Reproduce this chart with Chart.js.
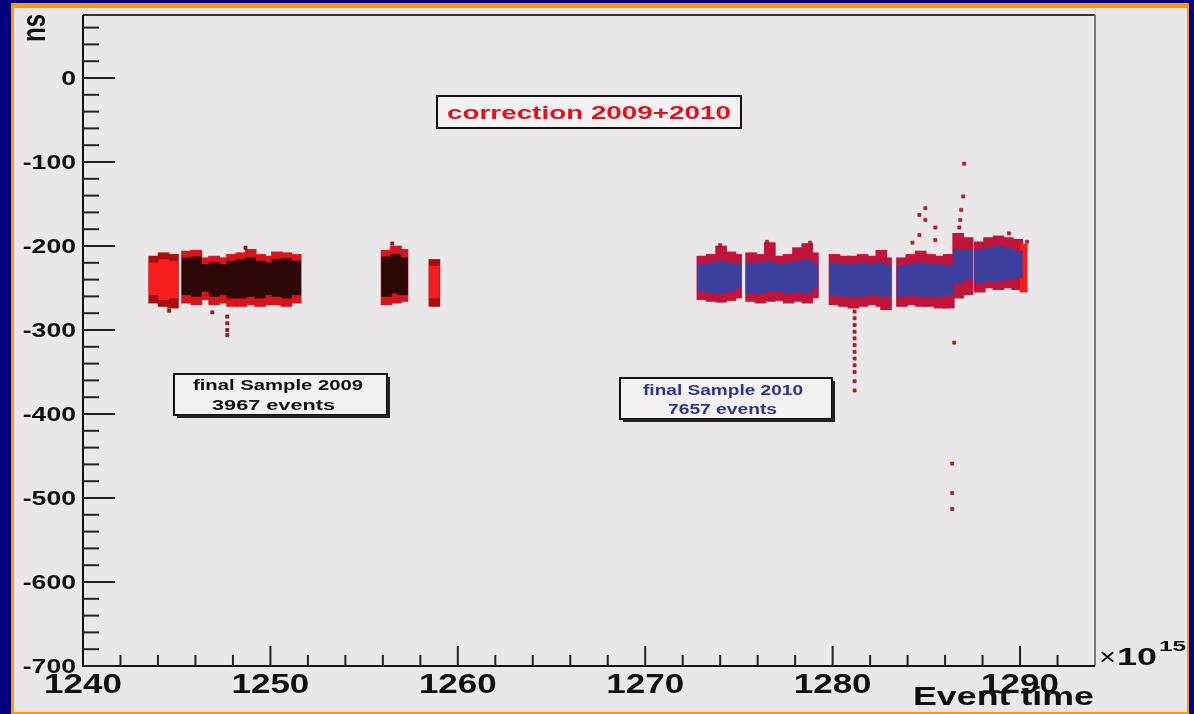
<!DOCTYPE html>
<html>
<head>
<meta charset="utf-8">
<script src="https://cdn.jsdelivr.net/npm/chart.js@4.4.1/dist/chart.umd.min.js"></script>
<style>
  html, body { margin: 0; padding: 0; background: #00007e; }
  #wrap { width: 1194px; height: 714px; }
</style>
</head>
<body>
<div id="wrap"><canvas id="chart" width="1194" height="714"></canvas></div>
<script>
        // axis ticks
        const yTickValues = [-700, -600, -500, -400, -300, -200, -100, 0];
        const xTickValues = [1240, 1250, 1260, 1270, 1280, 1290];

        // stripes: [event time (x1e15), outer low, outer high, core low, core high] in ns
        const sample2009Red = [
            [1243.8, -268, -212, -258, -220],
            [1244.3, -272, -208, -264, -216],
            [1244.8, -274, -210, -262, -218],
            [1258.75, -272, -216, -262, -224]
        ];

        const sample2009 = [
            [1245.55, -268, -206, -258, -214],
            [1246.05, -270, -205, -260, -213],
            [1246.55, -264, -214, -254, -222],
            [1247.0, -270, -212, -260, -220],
            [1247.45, -268, -214, -258, -222],
            [1247.95, -272, -210, -262, -218],
            [1248.45, -272, -208, -262, -216],
            [1248.95, -270, -204, -260, -214],
            [1249.45, -272, -210, -262, -218],
            [1249.9, -270, -212, -258, -220],
            [1250.35, -270, -207, -260, -216],
            [1250.85, -272, -208, -262, -215],
            [1251.35, -268, -210, -258, -218],
            [1256.2, -270, -205, -260, -213],
            [1256.7, -268, -200, -256, -210],
            [1257.05, -266, -204, -258, -214]
        ];

        const sample2010 = [
            [1273.05, -264, -212, -254, -222],
            [1273.55, -266, -210, -256, -220],
            [1274.05, -267, -200, -256, -218],
            [1274.55, -265, -207, -254, -220],
            [1274.85, -262, -210, -250, -222],
            [1275.65, -266, -208, -256, -220],
            [1276.15, -268, -210, -256, -220],
            [1276.65, -266, -196, -254, -218],
            [1277.15, -265, -212, -254, -222],
            [1277.65, -268, -210, -256, -220],
            [1278.15, -266, -202, -255, -218],
            [1278.65, -268, -197, -256, -216],
            [1278.95, -262, -208, -250, -222],
            [1280.1, -270, -210, -258, -220],
            [1280.6, -272, -212, -260, -222],
            [1281.1, -274, -212, -260, -222],
            [1281.6, -272, -210, -260, -220],
            [1282.1, -270, -212, -258, -222],
            [1282.6, -272, -205, -258, -220],
            [1282.85, -276, -214, -260, -224],
            [1283.7, -272, -214, -260, -224],
            [1284.2, -270, -210, -258, -222],
            [1284.7, -272, -206, -260, -220],
            [1285.2, -272, -210, -260, -222],
            [1285.7, -274, -212, -260, -222],
            [1286.2, -274, -210, -258, -224],
            [1286.7, -262, -185, -245, -205],
            [1287.2, -258, -190, -240, -205],
            [1287.85, -255, -195, -244, -205],
            [1288.35, -250, -190, -242, -202],
            [1288.85, -252, -188, -242, -200],
            [1289.35, -250, -190, -240, -202],
            [1289.85, -252, -192, -238, -206]
        ];

        const sample2010Red = [
            [1290.2, -255, -198]
        ];

        // isolated events [event time, ns]
        const outliers2009 = [
            [1246.9, -279], [1247.7, -284], [1247.7, -292], [1247.7, -300], [1247.7, -306],
            [1248.67, -202], [1244.6, -277], [1256.5, -197]
        ];

        const outliers2010 = [
            [1281.17, -278], [1281.17, -286], [1281.17, -294], [1281.17, -302], [1281.17, -310],
            [1281.17, -318], [1281.17, -326], [1281.17, -334], [1281.17, -342], [1281.17, -350],
            [1281.17, -361], [1281.17, -372],
            [1287.02, -102], [1286.97, -141], [1286.86, -157], [1286.81, -169], [1286.76, -178],
            [1284.95, -155], [1284.63, -163], [1284.95, -169], [1285.48, -178], [1284.63, -187],
            [1285.48, -193], [1284.26, -196], [1289.41, -185], [1290.37, -195], [1274.0, -199],
            [1276.5, -195], [1278.8, -196], [1286.49, -315], [1286.38, -459], [1286.38, -494],
            [1286.38, -513]
        ];

        const FONT = '"Liberation Sans", Arial, sans-serif';

        function floating(rows, lo, hi) {
            return rows.map(r => ({ x: r[0], y: [r[lo], r[hi]] }));
        }

        function points(rows) {
            return rows.map(r => ({ x: r[0], y: r[1] }));
        }

        function stretchText(ctx, text, x, y, sx, align) {
            ctx.save();
            ctx.translate(x, y);
            ctx.scale(sx, 1);
            ctx.textAlign = align;
            ctx.fillText(text, 0, 0);
            ctx.restore();
        }

        function fitText(ctx, text, left, y, width) {
            const w = ctx.measureText(text).width;
            stretchText(ctx, text, left, y, width / w, 'left');
        }

        function labelBox(ctx, x, y, w, h, shadow) {
            ctx.fillStyle = '#f3f1f1';
            ctx.fillRect(x, y, w, h);
            ctx.strokeStyle = '#111';
            ctx.lineWidth = 2;
            ctx.strokeRect(x, y, w, h);
            if (shadow) {
                ctx.fillStyle = '#222';
                ctx.fillRect(x + w, y + 3, 3, h);
                ctx.fillRect(x + 3, y + h, w, 3);
            }
        }

        const frameBackground = {
            id: 'frameBackground',
            beforeDraw(chart) {
                const ctx = chart.ctx;
                ctx.save();
                ctx.fillStyle = '#00007e';
                ctx.fillRect(0, 0, chart.width, chart.height);
                ctx.fillStyle = '#ff9a00';
                ctx.fillRect(11, 3, 1178, 711);
                ctx.fillStyle = '#e9e7e8';
                ctx.fillRect(14, 8, 1173, 704);
                ctx.restore();
            }
        };

        const rootAxes = {
            id: 'rootAxes',
            afterDraw(chart) {
                const ctx = chart.ctx;
                const a = chart.chartArea;
                const xs = chart.scales.x;
                const ys = chart.scales.y;
                ctx.save();

                // frame
                ctx.lineWidth = 2;
                ctx.strokeStyle = '#333';
                ctx.beginPath(); ctx.moveTo(a.left, a.top); ctx.lineTo(a.right, a.top); ctx.stroke();
                ctx.strokeStyle = '#777';
                ctx.beginPath(); ctx.moveTo(a.right, a.top); ctx.lineTo(a.right, a.bottom); ctx.stroke();
                ctx.strokeStyle = '#111';
                ctx.beginPath(); ctx.moveTo(a.left, a.top); ctx.lineTo(a.left, a.bottom); ctx.lineTo(a.right, a.bottom); ctx.stroke();

                // inward ticks
                ctx.strokeStyle = '#222';
                for (let v = -700; v <= 60; v += 20) {
                    const y = ys.getPixelForValue(v);
                    const len = yTickValues.includes(v) ? 32 : 16;
                    ctx.beginPath(); ctx.moveTo(a.left, y); ctx.lineTo(a.left + len, y); ctx.stroke();
                }
                for (let v = 1242; v <= 1292; v += 2) {
                    const x = xs.getPixelForValue(v);
                    const len = xTickValues.includes(v) ? 20 : 11;
                    ctx.beginPath(); ctx.moveTo(x, a.bottom); ctx.lineTo(x, a.bottom - len); ctx.stroke();
                }

                // tick labels
                ctx.fillStyle = '#111';
                ctx.textBaseline = 'middle';
                ctx.font = 'bold 20px ' + FONT;
                yTickValues.forEach(v => {
                    stretchText(ctx, String(v), 76, ys.getPixelForValue(v) + 1, 1.33, 'right');
                });
                ctx.font = 'bold 28px ' + FONT;
                xTickValues.forEach(v => {
                    stretchText(ctx, String(v), xs.getPixelForValue(v), 685, 1.25, 'center');
                });

                // axis titles
                ctx.textBaseline = 'alphabetic';
                ctx.font = 'bold 25px ' + FONT;
                fitText(ctx, 'Event time', 913, 705, 181);
                ctx.font = '24px ' + FONT;
                fitText(ctx, '\u00d7', 1099, 665, 17);
                ctx.font = 'bold 24px ' + FONT;
                fitText(ctx, '10', 1117, 665, 40);
                ctx.font = 'bold 15px ' + FONT;
                fitText(ctx, '15', 1159, 651, 27);

                ctx.save();
                ctx.translate(36, 28);
                ctx.scale(1.35, 1);
                ctx.rotate(-Math.PI / 2);
                ctx.font = 'bold 24px ' + FONT;
                ctx.textAlign = 'center';
                ctx.textBaseline = 'middle';
                ctx.fillText('ns', 0, 0);
                ctx.restore();

                // labels in the pad
                labelBox(ctx, 437, 96, 304, 32, false);
                ctx.fillStyle = '#e3101e';
                ctx.font = 'bold 19px ' + FONT;
                fitText(ctx, 'correction 2009+2010', 447, 119, 284);

                labelBox(ctx, 174, 374, 213, 41, true);
                ctx.fillStyle = '#111';
                ctx.font = 'bold 14px ' + FONT;
                fitText(ctx, 'final Sample 2009', 193, 390, 170);
                fitText(ctx, '3967 events', 212, 410, 123);

                labelBox(ctx, 620, 378, 212, 41, true);
                ctx.fillStyle = '#2b3694';
                ctx.font = 'bold 14px ' + FONT;
                fitText(ctx, 'final Sample 2010', 643, 395, 160);
                fitText(ctx, '7657 events', 668, 414, 109);

                ctx.restore();
            }
        };

        const OUTER = 11;
        const CORE = 10;

        new Chart(document.getElementById('chart'), {
            type: 'bar',
            data: {
                datasets: [
                    { type: 'scatter', data: points(outliers2010), backgroundColor: '#d8162c', borderColor: '#8a0c1c', borderWidth: 0.6, pointStyle: 'rect', radius: 2.2, order: 0 },
                    { type: 'scatter', data: points(outliers2009), backgroundColor: '#c8141c', borderColor: '#3a0606', borderWidth: 0.6, pointStyle: 'rect', radius: 2.2, order: 0 },
                    { data: floating(sample2010, 3, 4), backgroundColor: '#3d3f9f', barThickness: CORE, order: 1 },
                    { data: floating(sample2009, 3, 4), backgroundColor: '#2e0707', barThickness: CORE, order: 1 },
                    { data: floating(sample2009Red, 3, 4), backgroundColor: '#f51d1d', barThickness: CORE, order: 1 },
                    { data: floating(sample2010Red, 1, 2), backgroundColor: '#f01e1e', barThickness: 7, order: 1 },
                    { data: floating(sample2010, 1, 2), backgroundColor: '#c1143a', barThickness: OUTER, order: 2 },
                    { data: floating(sample2009, 1, 2), backgroundColor: '#d8141c', barThickness: OUTER, order: 2 },
                    { data: floating(sample2009Red, 1, 2), backgroundColor: '#a80e0e', barThickness: OUTER, order: 2 }
                ]
            },
            options: {
                responsive: false,
                animation: false,
                devicePixelRatio: 1,
                layout: { padding: { top: 15, right: 99, bottom: 0, left: 0 } },
                datasets: { bar: { grouped: false, borderWidth: 0 } },
                plugins: {
                    legend: { display: false },
                    tooltip: { enabled: false }
                },
                scales: {
                    x: {
                        type: 'linear',
                        min: 1240,
                        max: 1294,
                        offset: false,
                        grid: { display: false, offset: false },
                        border: { display: false },
                        ticks: { display: false },
                        afterFit: s => { s.height = 48; }
                    },
                    y: {
                        type: 'linear',
                        min: -700,
                        max: 75,
                        grid: { display: false },
                        border: { display: false },
                        ticks: { display: false },
                        afterFit: s => { s.width = 83; }
                    }
                }
            },
            plugins: [frameBackground, rootAxes]
        });
</script>
</body>
</html>
